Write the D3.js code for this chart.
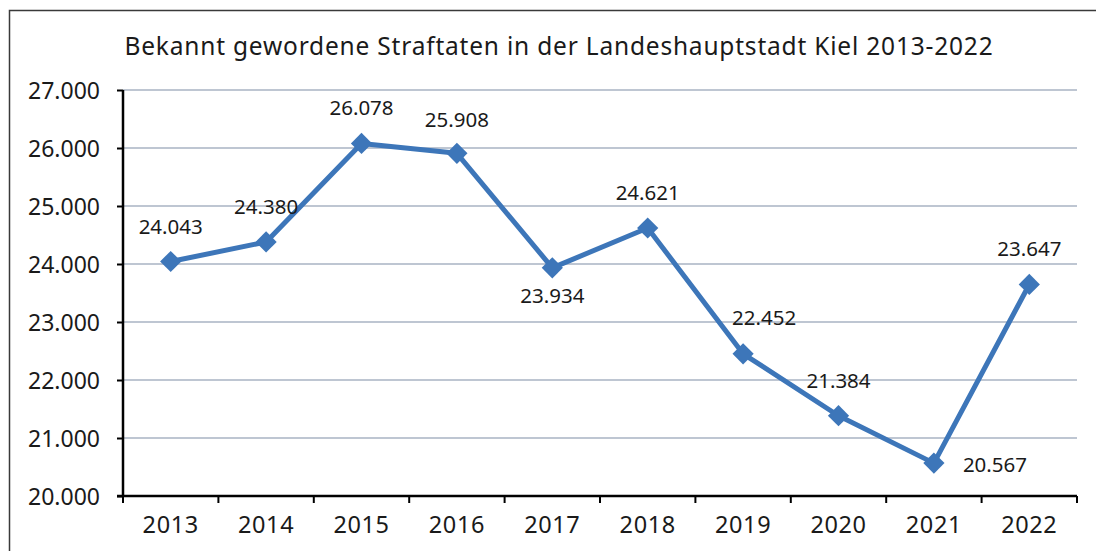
<!DOCTYPE html>
<html>
<head>
<meta charset="utf-8">
<script src="https://cdn.jsdelivr.net/npm/d3@7"></script>
<style>
  body { margin: 0; background: #fff; }
  text { font-family: "Noto Sans", "Open Sans", sans-serif; fill: #1a1a1a; }
</style>
</head>
<body>
<div id="chart"></div>
<script>
// data
var years = ["2013", "2014", "2015", "2016", "2017", "2018", "2019", "2020", "2021", "2022"];
var offences = [24043, 24380, 26078, 25908, 23934, 24621, 22452, 21384, 20567, 23647];
var yTicks = [20000, 21000, 22000, 23000, 24000, 25000, 26000, 27000];
var title = "Bekannt gewordene Straftaten in der Landeshauptstadt Kiel 2013-2022";

// where each value label sits relative to its marker (dx, dy, anchor)
var labelPlace = [
  [0, -28, "middle"], [0, -28, "middle"], [0, -28, "middle"], [0, -26, "middle"],
  [0, 35, "middle"], [0, -28, "middle"], [21, -29, "middle"], [0, -28, "middle"],
  [29, 9, "start"], [0, -28, "middle"]
];

var W = 1096, H = 551;
var margin = {top: 90, right: 19, bottom: 55, left: 123};

var svg = d3.select("#chart").append("svg")
    .attr("width", W)
    .attr("height", H);

// outer frame (right and bottom edge fall outside the picture)
svg.append("path")
    .attr("d", "M9.5," + H + "V10.5H" + W)
    .attr("fill", "none")
    .attr("stroke", "#3a3a3a")
    .attr("stroke-width", 1.5);

svg.append("text")
    .attr("x", 559)
    .attr("y", 55)
    .attr("text-anchor", "middle")
    .style("font-size", "24.5px")
    .style("letter-spacing", "0.8px")
    .text(title);

var x = d3.scaleBand().domain(years).range([margin.left, W - margin.right]);
var y = d3.scaleLinear().domain([20000, 27000]).range([H - margin.bottom, margin.top]);

var fmt = d3.formatLocale({decimal: ",", thousands: ".", grouping: [3]}).format(",d");

// gridlines
svg.append("g")
  .selectAll("line")
  .data(yTicks.slice(1))
  .enter().append("line")
    .attr("x1", margin.left)
    .attr("x2", W - margin.right)
    .attr("y1", function(d) { return y(d); })
    .attr("y2", function(d) { return y(d); })
    .attr("stroke", "#a9b3c3")
    .attr("stroke-width", 1.5);

// y axis
var yAxis = svg.append("g")
    .attr("transform", "translate(" + margin.left + ",0)")
    .call(d3.axisLeft(y).tickValues(yTicks).tickFormat(fmt).tickSize(6).tickPadding(17));
yAxis.select(".domain").attr("stroke", "#000").attr("stroke-width", 2.5).attr("d", "M0," + y(27000) + "V" + y(20000));
yAxis.selectAll(".tick line").attr("stroke", "#000").attr("stroke-width", 2);
yAxis.selectAll(".tick text")
    .style("font-size", "23px")
    .attr("dy", "0.36em");

// x axis: ticks between categories
var xAxis = svg.append("g")
    .attr("transform", "translate(0," + y(20000) + ")");
xAxis.append("line")
    .attr("x1", margin.left - 6)
    .attr("x2", W - margin.right)
    .attr("stroke", "#000")
    .attr("stroke-width", 2.5);
xAxis.selectAll(".sep")
  .data(years.concat(["end"]))
  .enter().append("line")
    .attr("class", "sep")
    .attr("x1", function(d, i) { return i < years.length ? x(d) : x.range()[1]; })
    .attr("x2", function(d, i) { return i < years.length ? x(d) : x.range()[1]; })
    .attr("y1", 0)
    .attr("y2", 7)
    .attr("stroke", "#000")
    .attr("stroke-width", 2);
xAxis.selectAll(".lbl")
  .data(years)
  .enter().append("text")
    .attr("class", "lbl")
    .attr("x", function(d) { return x(d) + x.bandwidth() / 2; })
    .attr("y", 37)
    .attr("text-anchor", "middle")
    .style("font-size", "23.5px")
    .style("letter-spacing", "0.6px")
    .text(function(d) { return d; });

var pts = years.map(function(d, i) { return {year: d, value: offences[i], place: labelPlace[i]}; });

var line = d3.line()
    .x(function(d) { return x(d.year) + x.bandwidth() / 2; })
    .y(function(d) { return y(d.value); });

svg.append("path")
    .datum(pts)
    .attr("d", line)
    .attr("fill", "none")
    .attr("stroke", "#3d76b9")
    .attr("stroke-width", 5)
    .attr("stroke-linejoin", "round");

svg.selectAll(".marker")
  .data(pts)
  .enter().append("path")
    .attr("class", "marker")
    .attr("d", d3.symbol().type(d3.symbolSquare).size(225))
    .attr("transform", function(d) {
      return "translate(" + (x(d.year) + x.bandwidth() / 2) + "," + y(d.value) + ") rotate(45)";
    })
    .attr("fill", "#3d76b9");

svg.selectAll(".val")
  .data(pts)
  .enter().append("text")
    .attr("class", "val")
    .attr("x", function(d) { return x(d.year) + x.bandwidth() / 2 + d.place[0]; })
    .attr("y", function(d) { return y(d.value) + d.place[1]; })
    .attr("text-anchor", function(d) { return d.place[2]; })
    .style("font-size", "20.5px")
    .text(function(d) { return fmt(d.value); });
</script>
</body>
</html>
